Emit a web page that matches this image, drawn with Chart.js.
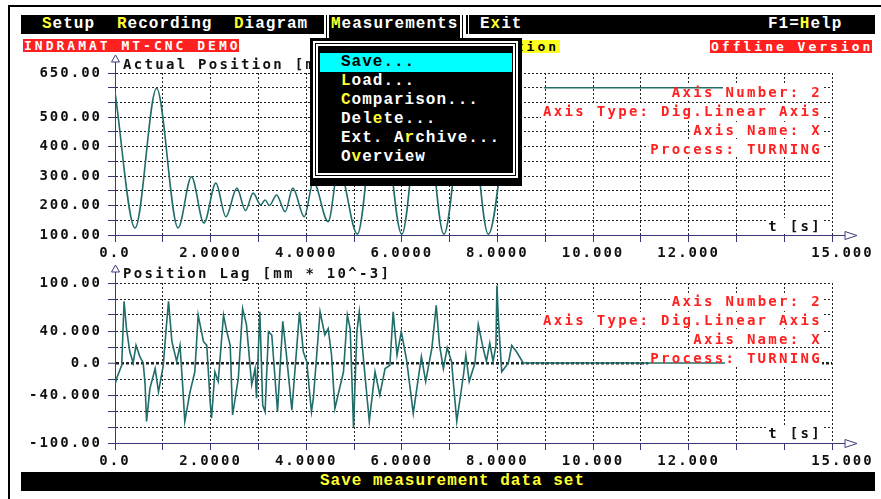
<!DOCTYPE html>
<html>
<head>
<meta charset="utf-8">
<script src="https://cdn.jsdelivr.net/npm/chart.js@4.4.0/dist/chart.umd.min.js"></script>
<style>
body { margin:0; width:881px; height:499px; background:#fff; position:relative; overflow:hidden; }
.abs { position:absolute; white-space:pre; }
.vga { font-family:'Liberation Mono', monospace; font-weight:bold; font-size:16px; letter-spacing:1px; color:#fff; line-height:19px; }
.hk { color:#ffff30; }
.txt { font-family:'DejaVu Sans Mono', monospace; font-weight:bold; font-size:14px; letter-spacing:2.3px; line-height:16px; color:#111; }
.red { color:#ff2020; }
.tag { font-family:'DejaVu Sans Mono', monospace; font-weight:bold; font-size:13px; letter-spacing:3px; line-height:13px; height:13px; padding-left:1px; overflow:hidden; }
canvas { position:absolute; left:0; z-index:1; }
.info { z-index:2; text-align:right; right:59px; padding-left:2px; }
.menu { z-index:5; }
</style>
</head>
<body>

<!-- screen frame -->
<div class="abs" style="left:8px;top:5px;width:873px;height:2px;background:#000"></div>
<div class="abs" style="left:8px;top:5px;width:2px;height:494px;background:#000"></div>

<!-- menu bar -->
<div class="abs menu" style="left:21px;top:15px;width:854px;height:19px;background:#000"></div>
<div class="abs menu vga" style="left:42px;top:15px"><span class="hk">S</span>etup</div>
<div class="abs menu vga" style="left:117px;top:15px"><span class="hk">R</span>ecording</div>
<div class="abs menu vga" style="left:234px;top:15px"><span class="hk">D</span>iagram</div>
<div class="abs menu" style="left:324px;top:15px;width:131px;height:27px;background:#000;border-left:5px double #fff;border-right:5px double #fff"></div>
<div class="abs menu vga" style="left:331px;top:15px"><span class="hk">M</span>easurements</div>
<div class="abs menu" style="left:465px;top:15px;width:0;height:25px;border-left:4px double #fff"></div>
<div class="abs menu vga" style="left:480px;top:15px">E<span class="hk">x</span>it</div>
<div class="abs menu vga" style="left:768px;top:15px">F1=<span class="hk">H</span>elp</div>

<!-- second line labels -->
<div class="abs tag" style="left:23px;top:39px;width:215px;background:#ff2020;color:#fff">INDRAMAT MT-CNC DEMO</div>
<div class="abs tag" style="left:374px;top:40px;width:185px;background:#ffff20;color:#000">Diagram: Position</div>
<div class="abs tag" style="left:710px;top:40px;width:161px;background:#ff2020;color:#fff">Offline Version</div>

<!-- dropdown -->
<div class="abs menu" style="left:310px;top:38px;width:212px;height:148px;background:#000"></div>
<div class="abs menu" style="left:313px;top:41px;width:205px;height:137px;box-sizing:border-box;border:5px double #fff"></div>
<div class="abs menu" style="left:320px;top:53px;width:192px;height:19px;background:#00ffff"></div>
<div class="abs menu vga" style="left:341px;top:53px;color:#000">Save...</div>
<div class="abs menu vga" style="left:341px;top:72px"><span class="hk">L</span>oad...</div>
<div class="abs menu vga" style="left:341px;top:91px"><span class="hk">C</span>omparison...</div>
<div class="abs menu vga" style="left:341px;top:110px">Del<span class="hk">e</span>te...</div>
<div class="abs menu vga" style="left:341px;top:129px">Ext. A<span class="hk">r</span>chive...</div>
<div class="abs menu vga" style="left:341px;top:148px">O<span class="hk">v</span>erview</div>

<!-- chart titles and notes -->
<div class="abs txt" style="left:123px;top:56px;z-index:2">Actual Position [mm]</div>
<div class="abs txt" style="left:123px;top:265px;z-index:2">Position Lag [mm * 10^-3]</div>
<div class="abs txt info" style="top:218px">t [s]</div>
<div class="abs txt info" style="top:425px">t [s]</div>

<div class="abs txt red info" style="top:84px">Axis Number: 2</div>
<div class="abs txt red info" style="top:103px">Axis Type: Dig.Linear Axis</div>
<div class="abs txt red info" style="top:122px">Axis Name: X</div>
<div class="abs txt red info" style="top:141px">Process: TURNING</div>

<div class="abs txt red info" style="top:293px">Axis Number: 2</div>
<div class="abs txt red info" style="top:312px">Axis Type: Dig.Linear Axis</div>
<div class="abs txt red info" style="top:331px">Axis Name: X</div>
<div class="abs txt red info" style="top:350px">Process: TURNING</div>

<canvas id="grafico1" width="881" height="215" style="top:55px"></canvas>
<canvas id="grafico2" width="881" height="215" style="top:260px"></canvas>

<!-- status bar -->
<div class="abs menu" style="left:21px;top:472px;width:854px;height:19px;background:#000"></div>
<div class="abs menu vga" style="left:320px;top:472px;color:#ffff30">Save measurement data set</div>

<script>
// x axis (time, s)
const xTickValues = [0, 2, 4, 6, 8, 10, 12, 15]
const xTickLabels = ['0.0', '2.0000', '4.0000', '6.0000', '8.0000', '10.000', '12.000', '15.000']

// actual position [mm]
const posTickValues = [100, 200, 300, 400, 500, 650]
const posTickLabels = ['100.00', '200.00', '300.00', '400.00', '500.00', '650.00']
const posTime = [0, 0.42, 0.87, 1.32, 1.6, 1.86, 2.11, 2.32, 2.55, 2.73, 2.89, 3.05, 3.14, 3.23, 3.38, 3.56, 3.72, 3.96,
  4.15, 4.46, 4.68, 5.07, 5.52, 6.0, 6.44, 6.88, 7.36, 7.81, 8.27, 8.6, 8.97, 12.72]
const posValue = [585, 124, 598, 124, 298, 141, 276, 162, 259, 183, 242, 202, 219, 200, 236, 179, 259, 162,
  281, 145, 330, 103, 630, 103, 630, 103, 630, 103, 630, null, 600, 600]

// position lag [mm * 10^-3]
const lagTickValues = [-100, -40, 0, 40, 100]
const lagTickLabels = ['-100.00', '-40.000', '0.0', '40.000', '100.00']
const lagTime = [0, 0.035, 0.14, 0.19, 0.24, 0.31, 0.38, 0.44, 0.52, 0.59, 0.63, 0.66, 0.73, 0.84, 0.91, 1.01, 1.07, 1.12,
  1.19, 1.29, 1.36, 1.42, 1.46, 1.57, 1.67, 1.74, 1.85, 1.92, 1.99, 2.02, 2.09, 2.16, 2.27, 2.34, 2.41, 2.46, 2.58,
  2.67, 2.75, 2.86, 2.93, 2.96, 3.03, 3.09, 3.14, 3.21, 3.28, 3.40, 3.51, 3.58, 3.70, 3.86, 3.94, 4.01, 4.11, 4.15,
  4.29, 4.39, 4.46, 4.53, 4.60, 4.78, 4.86, 4.92, 4.99, 5.06, 5.11, 5.19, 5.32, 5.44, 5.54, 5.65, 5.75, 5.82, 5.90,
  5.99, 6.10, 6.24, 6.41, 6.50, 6.63, 6.72, 6.79, 6.87, 6.95, 7.04, 7.15, 7.29, 7.34, 7.41, 7.53, 7.60, 7.70, 7.77,
  7.84, 7.91, 7.97, 7.99, 8.02, 8.09, 8.23, 8.30, 8.40, 8.54, 12.76]
const lagValue = [-27, -19, -3, 77, 43, 14, 0, 22, 8, 0, -27, -73, -32, -7, -36, -3, 43, 77,
  27, 2, 22, -32, -73, -36, -11, 60, 27, 22, -48, -69, -11, -23, 60, 39, 22, -65, -19,
  68, 48, -27, -7, -44, 64, -53, -61, 39, 35, -61, 52, 14, -59, 64, 14, 2, -61, -44,
  64, 35, 43, 10, -57, -11, 60, 43, -81, 39, 64, 10, -73, -11, -40, -7, -3, 64, 10,
  39, 4, -63, 8, -23, 19, 72, 22, -7, 19, 2, -73, -15, 10, -23, 0, 48, 19, 2,
  25, 2, 22, 97, 56, -11, 0, 22, 14, 0, 0]

const axisColor = '#3a3a7a'
const lineColor = '#216d69'
const tickFont = { family: 'DejaVu Sans Mono', size: 14, weight: 'bold' }

const espaciado = {
  id: 'espaciado',
  beforeDraw(chart) { chart.ctx.letterSpacing = '2px' }
}

// blank the grid behind the notes, the curve is drawn over them afterwards
const huecos = {
  id: 'huecos',
  beforeDatasetsDraw(chart) {
    const c = chart.canvas.getBoundingClientRect()
    const ctx = chart.ctx
    ctx.save()
    ctx.fillStyle = '#fff'
    document.querySelectorAll('.info').forEach((el) => {
      const r = el.getBoundingClientRect()
      ctx.fillRect(r.left - c.left, r.top - c.top, r.width, r.height)
    })
    ctx.restore()
  }
}

const flechas = {
  id: 'flechas',
  afterDraw(chart) {
    const { ctx, chartArea: a } = chart
    const l = Math.round(a.left) + 0.5
    const b = Math.round(a.bottom) + 0.5
    ctx.save()
    ctx.letterSpacing = '0px'
    ctx.strokeStyle = axisColor
    ctx.fillStyle = '#fff'
    ctx.lineWidth = 1
    ctx.beginPath(); ctx.moveTo(l, a.top); ctx.lineTo(l, a.top - 11); ctx.stroke()
    ctx.beginPath(); ctx.moveTo(l, a.top - 18); ctx.lineTo(l + 4, a.top - 11); ctx.lineTo(l - 4, a.top - 11); ctx.closePath()
    ctx.fill(); ctx.stroke()
    ctx.beginPath(); ctx.moveTo(a.right, b); ctx.lineTo(a.right + 13, b); ctx.stroke()
    ctx.beginPath(); ctx.moveTo(a.right + 13, b - 4); ctx.lineTo(a.right + 25, b); ctx.lineTo(a.right + 13, b + 4); ctx.closePath()
    ctx.fill(); ctx.stroke()
    ctx.restore()
  }
}

const etiqueta = (values, labels) => (v) => {
  const i = values.indexOf(v)
  if (i < 0) return ''
  // last time label sits a little right of its tick on the original screen
  return i === values.length - 1 && values === xTickValues ? '  ' + labels[i] : labels[i]
}

const configuracion = (puntos, tension, yMin, yMax, yStep, yValues, yLabels, padTop, xHeight, zeroLine) => {
  return {
    type: 'line',
    data: {
      datasets: [{
        data: puntos,
        borderColor: lineColor,
        borderWidth: 1.6,
        pointRadius: 0,
        cubicInterpolationMode: tension ? 'monotone' : 'default',
        tension: tension ? 0.4 : 0,
        spanGaps: false
      }]
    },
    options: {
      responsive: false,
      animation: false,
      events: [],
      layout: { padding: { left: 0, right: 49, top: padTop, bottom: 0 } },
      plugins: { legend: { display: false }, tooltip: { enabled: false } },
      scales: {
        x: {
          type: 'linear', min: 0, max: 15,
          afterFit: (s) => { s.height = xHeight },
          border: { display: true, color: axisColor, width: 1, dash: [2, 2] },
          grid: {
            color: (c) => c.tick && c.tick.value === 0 ? 'rgba(0,0,0,0)' : '#222',
            lineWidth: 1, tickWidth: 1, tickLength: 7, tickColor: axisColor
          },
          ticks: {
            stepSize: 1, autoSkip: false, maxRotation: 0, padding: 3,
            color: '#111', font: tickFont,
            callback: etiqueta(xTickValues, xTickLabels)
          }
        },
        y: {
          min: yMin, max: yMax,
          afterFit: (s) => { s.width = 115 },
          border: {
            display: true, color: axisColor, width: 1,
            dash: (c) => zeroLine && c.tick && c.tick.value === 0 ? [3, 2] : [2, 2]
          },
          grid: {
            color: (c) => c.tick && c.tick.value === yMin ? 'rgba(0,0,0,0)' : '#222',
            lineWidth: (c) => zeroLine && c.tick && c.tick.value === 0 ? 2.5 : 1,
            tickWidth: 1, tickLength: 7, tickColor: axisColor
          },
          ticks: {
            stepSize: yStep, autoSkip: false, padding: 6,
            color: '#111', font: tickFont,
            callback: etiqueta(yValues, yLabels)
          }
        }
      }
    },
    plugins: [espaciado, huecos, flechas]
  }
}

const posPuntos = posTime.map((t, i) => ({ x: t, y: posValue[i] }))
const lagPuntos = lagTime.map((t, i) => ({ x: t, y: lagValue[i] }))

new Chart(document.getElementById('grafico1'),
  configuracion(posPuntos, true, 100, 650, 50, posTickValues, posTickLabels, 18, 35, false))
new Chart(document.getElementById('grafico2'),
  configuracion(lagPuntos, false, -100, 100, 20, lagTickValues, lagTickLabels, 23, 32, true))
</script>
</body>
</html>
